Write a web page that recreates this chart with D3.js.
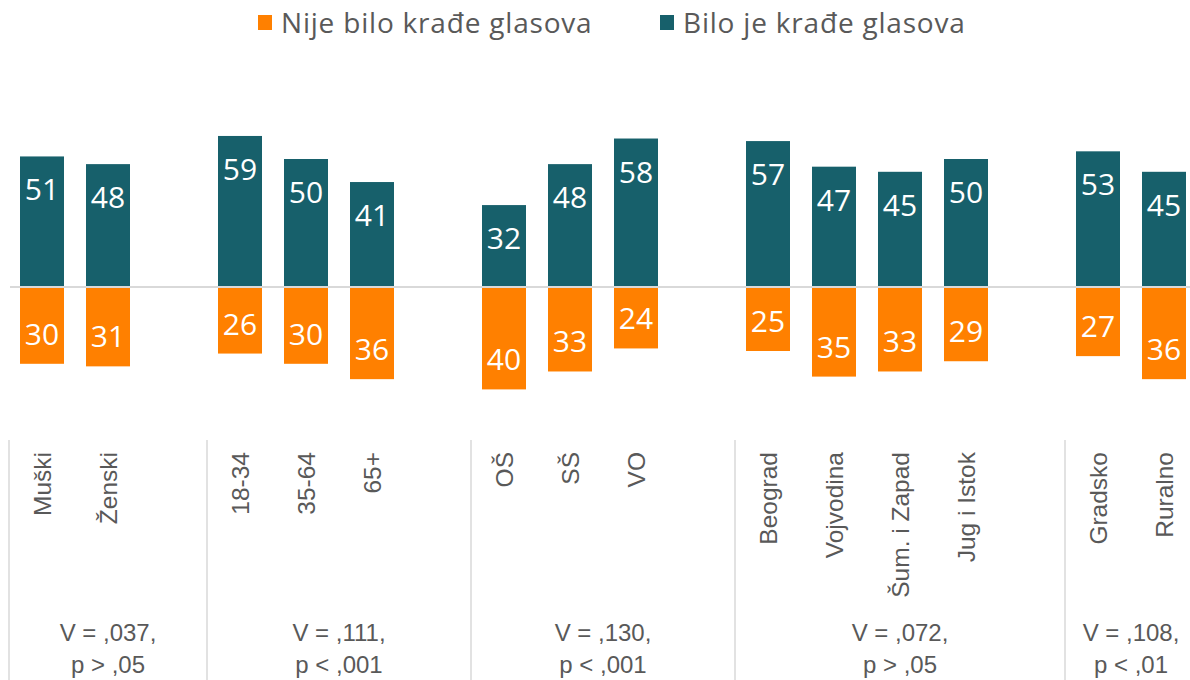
<!DOCTYPE html>
<html><head><meta charset="utf-8">
<script src="https://cdn.jsdelivr.net/npm/d3@7"></script>
<style>body{margin:0;background:#fff}svg{display:block}text{font-family:"Open Sans",sans-serif}.ar{font-family:"Liberation Sans",Arial,sans-serif}</style>
</head><body><svg id="c" width="1190" height="680"></svg>
<script>
const categories = ["Muški","Ženski","18-34","35-64","65+","OŠ","SŠ","VO","Beograd","Vojvodina","Šum. i Zapad","Jug i Istok","Gradsko","Ruralno"];
const biloJe = [51,48,59,50,41,32,48,58,57,47,45,50,53,45];
const nijeBilo = [30,31,26,30,36,40,33,24,25,35,33,29,27,36];
const groupSizes = [2,3,3,4,2];
const statV = ["V = ,037,","V = ,111,","V = ,130,","V = ,072,","V = ,108,"];
const statP = ["p > ,05","p < ,001","p < ,001","p > ,05","p < ,01"];
const seriesNames = ["Nije bilo krađe glasova","Bilo je krađe glasova"];
const colors = ["#FF8000","#17606B"];

const svg = d3.select("#c");
const slots = [];
const groupSlots = [];
let ci = 0;
groupSizes.forEach((n,g)=>{
  const gs=[];
  for(let k=0;k<n;k++){slots.push(categories[ci]);gs.push(categories[ci]);ci++;}
  if(g<groupSizes.length-1){const gap="gap"+g; slots.push(gap); gs.push(gap);}
  groupSlots.push(gs);
});
const x = d3.scaleBand().domain(slots).range([9,9+66*slots.length]).paddingInner(1/3).paddingOuter(1/6);
const step = x.step();
const y = d3.scaleLinear().domain([-50,70]).range([287+50*2.56, 287-70*2.56]);

svg.append("line").attr("x1",10).attr("x2",1190).attr("y1",y(0)).attr("y2",y(0))
  .attr("stroke","#d9d9d9").attr("stroke-width",2);

svg.selectAll("rect.b").data(categories).join("rect").attr("class","b")
  .attr("x",d=>x(d)).attr("width",x.bandwidth())
  .attr("y",(d,i)=>y(biloJe[i])).attr("height",(d,i)=>y(0)-y(biloJe[i])-1)
  .attr("fill",colors[1]);
svg.selectAll("rect.o").data(categories).join("rect").attr("class","o")
  .attr("x",d=>x(d)).attr("width",x.bandwidth())
  .attr("y",y(0)+1).attr("height",(d,i)=>y(-nijeBilo[i])-y(0)-1)
  .attr("fill",colors[0]);

svg.selectAll("text.bl").data(categories).join("text").attr("class","bl")
  .attr("x",d=>x(d)+x.bandwidth()/2).attr("y",(d,i)=>y(biloJe[i])+44)
  .attr("text-anchor","middle").attr("fill","#fff").attr("font-size",30)
  .text((d,i)=>biloJe[i]);
svg.selectAll("text.ol").data(categories).join("text").attr("class","ol")
  .attr("x",d=>x(d)+x.bandwidth()/2).attr("y",(d,i)=>y(-nijeBilo[i])-19)
  .attr("text-anchor","middle").attr("fill","#fff").attr("font-size",30)
  .text((d,i)=>nijeBilo[i]);

const sepX = groupSlots.map(gs=>x(gs[0])-step/6);
svg.selectAll("line.sep").data(sepX).join("line").attr("class","sep")
  .attr("x1",d=>d).attr("x2",d=>d).attr("y1",440).attr("y2",680)
  .attr("stroke","#d9d9d9").attr("stroke-width",1.5);

svg.selectAll("text.cat").data(categories).join("text").attr("class","cat ar")
  .attr("transform",d=>`translate(${x(d)+x.bandwidth()/2},452) rotate(-90)`)
  .attr("text-anchor","end").attr("dy","0.35em").attr("fill","#595959").attr("font-size",24.5)
  .text(d=>d);

groupSlots.forEach((gs,g)=>{
  const x0 = x(gs[0])-step/6;
  const x1 = x(gs[gs.length-1])+x.bandwidth()+step/6;
  const cx=(x0+x1)/2;
  svg.append("text").attr("class","ar").attr("x",cx).attr("y",641).attr("text-anchor","middle")
    .attr("fill","#595959").attr("font-size",24).text(statV[g]);
  svg.append("text").attr("class","ar").attr("x",cx).attr("y",673).attr("text-anchor","middle")
    .attr("fill","#595959").attr("font-size",24).text(statP[g]);
});

const leg = [{n:seriesNames[0],c:colors[0],x:258},{n:seriesNames[1],c:colors[1],x:660}];
leg.forEach(l=>{
  svg.append("rect").attr("x",l.x).attr("y",15).attr("width",14).attr("height",15).attr("fill",l.c);
  svg.append("text").attr("x",l.x+23).attr("y",33).attr("fill","#595959").attr("font-size",28)
    .attr("letter-spacing",0.8).text(l.n);
});
</script></body></html>
